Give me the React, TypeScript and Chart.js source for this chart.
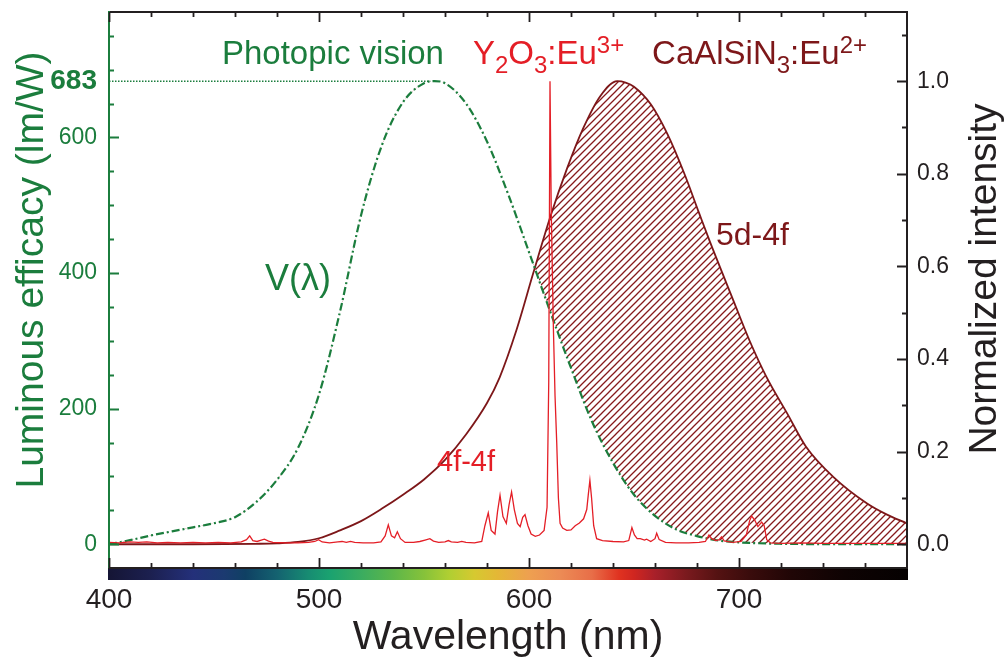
import { useEffect, useRef } from 'react';
import { Chart, registerables } from 'chart.js';

Chart.register(...registerables);

const FONT = '"Liberation Sans", Arial, Helvetica, sans-serif';
const GREEN = '#1b7d3d';
const RED = '#e41e26';
const DARK_RED = '#7d1719';
const HATCH_RED = '#861a1c';
const INK = '#231f20';

// ---- axes ----
const wavelengthMin = 400;
const wavelengthMax = 780;
const wavelengthLabels = [400, 500, 600, 700];
const wavelengthMinorTicks = [420, 440, 460, 480, 520, 540, 560, 580, 620, 640, 660, 680, 720, 740, 760];

const efficacyMin = -35;
const efficacyMax = 785;
const efficacyLabels = [0, 200, 400, 600, 683];
const efficacyMajorTicks = [0, 200, 400, 600];
const efficacyMinorTicks = [50, 100, 150, 250, 300, 350, 450, 500, 550, 650, 700, 750];

const intensityMin = -35 / 683;
const intensityMax = 785 / 683;
const intensityLabels = [0, 0.2, 0.4, 0.6, 0.8, 1.0];
const intensityMinorTicks = [0.1, 0.3, 0.5, 0.7, 0.9, 1.1];

// ---- photopic luminous efficacy V(λ), lm/W ----
const photopicWavelengths = [400, 410, 420, 430, 440, 450, 460, 470, 480, 490, 500, 510, 520, 530, 540, 550, 555, 560, 570, 580, 590, 600, 610, 620, 630, 640, 650, 660, 670, 680, 690, 700, 720, 740, 760, 780];
const photopicEfficacy = [0, 6, 13, 19, 25, 31, 40, 62, 95, 142, 221, 343, 485, 589, 652, 680, 683, 680, 650, 594, 517, 431, 344, 260, 181, 120, 73, 42, 22, 12, 5.6, 2.8, 0.7, 0.2, 0.04, 0];

// dotted guide at the 683 lm/W maximum
const peakGuideWavelengths = [400, 553];
const peakGuideEfficacy = [683, 683];

// ---- CaAlSiN3:Eu2+ broad 5d-4f band, normalized ----
const nitrideWavelengths = [400, 440, 470, 480, 490, 500, 510, 520, 530, 540, 550, 560, 570, 580, 586, 594, 602, 610, 618, 626, 634, 642, 646, 650, 658, 666, 674, 681, 686, 697, 705, 713, 723, 732, 745, 761, 770, 780];
const nitrideIntensity = [0, 0, 0.001, 0.002, 0.005, 0.013, 0.03, 0.05, 0.077, 0.107, 0.14, 0.182, 0.237, 0.305, 0.36, 0.462, 0.585, 0.705, 0.81, 0.9, 0.968, 1.0, 0.997, 0.988, 0.95, 0.885, 0.8, 0.715, 0.655, 0.53, 0.44, 0.362, 0.282, 0.21, 0.145, 0.088, 0.065, 0.045];

// ---- Y2O3:Eu3+ line spectrum (4f-4f), normalized ----
const europiumWavelengths = [
  400, 405, 410, 414, 418, 423, 428, 434, 440, 446, 452, 458, 463, 465.5, 467, 468.5, 470.5, 472.5, 474, 476, 478,
  484, 490, 495, 498, 499.8, 501.5, 505, 509, 511, 513, 515, 517, 521, 526, 529.5, 531.5, 533, 534.5, 536, 537.3,
  538.8, 541, 545, 548, 550.5, 552.8, 554.5, 557, 560, 561.6, 563, 566, 568, 570, 574, 577.5, 579, 580.6, 582,
  583.8, 585, 586.2, 587.6, 589.2, 590.5, 591.7, 593, 594.5, 595.8, 597, 598.1, 599.5, 601, 603, 605, 607.2, 608.6,
  609.4, 610, 610.6, 611.6, 612.4, 613.2, 614, 614.8, 616, 618, 620, 622, 624, 626, 627.5, 628.3, 629, 629.8, 630.8,
  632.2, 635, 640, 645, 647.5, 649, 650.2, 651.5, 653, 655, 656, 658, 660, 660.8, 662, 665, 670, 676, 681, 684,
  685.7, 687, 689, 690.5, 691.7, 693, 697, 701, 703.5, 705, 706, 707.5, 709, 710.8, 712, 713.2, 715, 720, 730, 740,
  750, 760, 770, 780,
];
const europiumIntensity = [
  0.004, 0.003, 0.005, 0.004, 0.005, 0.003, 0.004, 0.003, 0.004, 0.003, 0.004, 0.003, 0.005, 0.01, 0.018, 0.008, 0.006, 0.009, 0.011, 0.007, 0.004,
  0.003, 0.003, 0.004, 0.006, 0.01, 0.005, 0.003, 0.005, 0.006, 0.004, 0.006, 0.004, 0.003, 0.003, 0.005, 0.018, 0.042, 0.018, 0.014, 0.027,
  0.012, 0.004, 0.004, 0.006, 0.009, 0.012, 0.007, 0.004, 0.005, 0.008, 0.005, 0.004, 0.006, 0.004, 0.003, 0.006, 0.04, 0.068, 0.03,
  0.022, 0.07, 0.106, 0.06, 0.045, 0.085, 0.113, 0.075, 0.045, 0.038, 0.058, 0.064, 0.04, 0.022, 0.017, 0.02, 0.03, 0.08,
  0.35, 1.0, 0.72, 0.47, 0.32, 0.22, 0.1, 0.045, 0.035, 0.03, 0.031, 0.04, 0.046, 0.055, 0.075, 0.11, 0.138, 0.1, 0.04,
  0.012, 0.008, 0.006, 0.005, 0.008, 0.036, 0.02, 0.012, 0.012, 0.009, 0.011, 0.006, 0.012, 0.024, 0.01, 0.004, 0.003, 0.003, 0.004, 0.006,
  0.02, 0.012, 0.008, 0.01, 0.016, 0.007, 0.004, 0.006, 0.02, 0.05, 0.061, 0.052, 0.038, 0.048, 0.04, 0.01, 0.003, 0.002, 0.003, 0.002,
  0.002, 0.002, 0.002, 0.002,
];

// colour strip under the wavelength axis
const spectrumStops: [number, string][] = [
  [400, '#151535'], [420, '#1c2050'], [440, '#24307a'], [455, '#1b3a70'], [465, '#0f4063'], [480, '#146270'],
  [495, '#178c72'], [505, '#1aa270'], [520, '#3aac60'], [535, '#5cb64a'], [550, '#86c23a'], [562, '#b0cf32'],
  [574, '#d6c930'], [585, '#e4b736'], [600, '#eea050'], [615, '#ec8b55'], [630, '#e86e48'], [643, '#e03220'],
  [650, '#d02620'], [660, '#a8202a'], [675, '#7a1a1e'], [690, '#541212'], [705, '#3a0c0c'], [725, '#200606'],
  [750, '#0e0303'], [780, '#050101'],
];

type Run = { t: string; s?: 'sub' | 'sup' };
type Note = { runs: Run[]; nm: number; level: number; size: number; color: string };

// text placed at (wavelength, normalized intensity)
const notes: Note[] = [
  { runs: [{ t: 'Photopic vision' }], nm: 453.8, level: 1.037, size: 33, color: GREEN },
  { runs: [{ t: 'Y' }, { t: '2', s: 'sub' }, { t: 'O' }, { t: '3', s: 'sub' }, { t: ':Eu' }, { t: '3+', s: 'sup' }], nm: 573.3, level: 1.037, size: 33, color: RED },
  { runs: [{ t: 'CaAlSiN' }, { t: '3', s: 'sub' }, { t: ':Eu' }, { t: '2+', s: 'sup' }], nm: 658.6, level: 1.037, size: 33, color: DARK_RED },
  { runs: [{ t: 'V(λ)' }], nm: 474.3, level: 0.549, size: 36, color: GREEN },
  { runs: [{ t: '4f-4f' }], nm: 556.2, level: 0.158, size: 29, color: RED },
  { runs: [{ t: '5d-4f' }], nm: 689.0, level: 0.646, size: 32, color: DARK_RED },
];

const pts = (xs: number[], ys: number[]) => xs.map((x, i) => ({ x, y: ys[i] }));

function drawRuns(ctx: CanvasRenderingContext2D, x: number, y: number, note: Note) {
  let cx = x;
  ctx.fillStyle = note.color;
  ctx.textBaseline = 'alphabetic';
  ctx.textAlign = 'left';
  const small = Math.round(note.size * 0.73);
  for (const r of note.runs) {
    const size = r.s ? small : note.size;
    ctx.font = `${size}px ${FONT}`;
    const dy = r.s === 'sub' ? 9 : r.s === 'sup' ? -11 : 0;
    ctx.fillText(r.t, cx, y + dy);
    cx += ctx.measureText(r.t).width;
  }
}

const decorPlugin = {
  id: 'decor',
  afterDatasetsDraw(chart: any) {
    const ctx: CanvasRenderingContext2D = chart.ctx;
    const { left, right, top, bottom } = chart.chartArea;
    const xs = chart.scales.x;
    const yl = chart.scales.yL;
    const yr = chart.scales.yR;
    ctx.save();

    // spectrum strip
    const grad = ctx.createLinearGradient(left, 0, right, 0);
    for (const [nm, c] of spectrumStops) {
      grad.addColorStop((xs.getPixelForValue(nm) - left) / (right - left), c);
    }
    ctx.fillStyle = grad;
    ctx.fillRect(left - 1, bottom, right - left + 2, 12);

    // frame
    ctx.lineWidth = 2;
    ctx.strokeStyle = INK;
    ctx.beginPath();
    ctx.moveTo(left - 1, top);
    ctx.lineTo(right + 1, top);
    ctx.moveTo(right, top);
    ctx.lineTo(right, bottom);
    ctx.moveTo(left - 1, bottom);
    ctx.lineTo(right + 1, bottom);
    ctx.stroke();
    ctx.strokeStyle = GREEN;
    ctx.beginPath();
    ctx.moveTo(left, top - 1);
    ctx.lineTo(left, bottom);
    ctx.stroke();

    // inward ticks
    ctx.lineWidth = 1.8;
    ctx.strokeStyle = INK;
    ctx.beginPath();
    const xTick = (v: number, len: number) => {
      const p = Math.round(xs.getPixelForValue(v)) + 0.5;
      ctx.moveTo(p, bottom);
      ctx.lineTo(p, bottom - len);
      ctx.moveTo(p, top);
      ctx.lineTo(p, top + len);
    };
    wavelengthLabels.forEach((v) => xTick(v, 10));
    wavelengthMinorTicks.forEach((v) => xTick(v, 5));
    const rTick = (v: number, len: number) => {
      const p = Math.round(yr.getPixelForValue(v)) + 0.5;
      ctx.moveTo(right, p);
      ctx.lineTo(right - len, p);
    };
    intensityLabels.forEach((v) => rTick(v, 10));
    intensityMinorTicks.forEach((v) => rTick(v, 5));
    ctx.stroke();

    ctx.strokeStyle = GREEN;
    ctx.beginPath();
    const lTick = (v: number, len: number) => {
      const p = Math.round(yl.getPixelForValue(v)) + 0.5;
      ctx.moveTo(left, p);
      ctx.lineTo(left + len, p);
    };
    efficacyMajorTicks.forEach((v) => lTick(v, 10));
    efficacyMinorTicks.forEach((v) => lTick(v, 5));
    ctx.stroke();

    // annotations
    for (const n of notes) {
      drawRuns(ctx, xs.getPixelForValue(n.nm), yr.getPixelForValue(n.level), n);
    }

    // vertical axis titles
    const mid = (top + bottom) / 2;
    ctx.font = `39px ${FONT}`;
    ctx.textAlign = 'center';
    ctx.textBaseline = 'alphabetic';
    ctx.save();
    ctx.translate(yl.left + 43, mid - 20);
    ctx.rotate(-Math.PI / 2);
    ctx.fillStyle = GREEN;
    ctx.fillText('Luminous efficacy (lm/W)', 0, 0);
    ctx.restore();
    ctx.save();
    ctx.translate(right + 89, mid - 11);
    ctx.rotate(-Math.PI / 2);
    ctx.fillStyle = INK;
    ctx.fillText('Normalized intensity', 0, 0);
    ctx.restore();

    ctx.restore();
  },
};

// diagonal "/" hatching for the band area above V(λ)
function makeHatch(ctx: CanvasRenderingContext2D) {
  const s = 7;
  const c = document.createElement('canvas');
  c.width = s;
  c.height = s;
  const g = c.getContext('2d')!;
  g.strokeStyle = HATCH_RED;
  g.lineWidth = 1.3;
  g.beginPath();
  g.moveTo(0, s);
  g.lineTo(s, 0);
  g.moveTo(-1, 1);
  g.lineTo(1, -1);
  g.moveTo(s - 1, s + 1);
  g.lineTo(s + 1, s - 1);
  g.stroke();
  return ctx.createPattern(c, 'repeat');
}

// vertical scales: fixed width, no extra label padding above/below the plot
const fixVertical = (width: number) => (s: any) => {
  s.width = width;
  s.paddingTop = 0;
  s.paddingBottom = 0;
};

export default function App() {
  const canvasRef = useRef<HTMLCanvasElement>(null);

  useEffect(() => {
    document.body.style.margin = '0';
    const canvas = canvasRef.current!;
    const ctx = canvas.getContext('2d')!;
    const hatch = makeHatch(ctx);

    const chart = new Chart(ctx, {
      type: 'line',
      data: {
        datasets: [
          {
            label: 'Y2O3:Eu3+',
            data: pts(europiumWavelengths, europiumIntensity),
            yAxisID: 'yR',
            borderColor: RED,
            borderWidth: 1.3,
            pointRadius: 0,
            tension: 0,
            fill: false,
          },
          {
            label: 'V(λ)',
            data: pts(photopicWavelengths, photopicEfficacy),
            yAxisID: 'yL',
            borderColor: GREEN,
            borderWidth: 2.2,
            borderDash: [8, 3, 2, 3],
            pointRadius: 0,
            cubicInterpolationMode: 'monotone',
            fill: false,
          },
          {
            label: '683 lm/W',
            data: pts(peakGuideWavelengths, peakGuideEfficacy),
            yAxisID: 'yL',
            borderColor: GREEN,
            borderWidth: 1.5,
            borderDash: [1.5, 1.5],
            pointRadius: 0,
            fill: false,
          },
          {
            label: 'CaAlSiN3:Eu2+',
            data: pts(nitrideWavelengths, nitrideIntensity),
            yAxisID: 'yR',
            borderColor: DARK_RED,
            borderWidth: 1.8,
            pointRadius: 0,
            cubicInterpolationMode: 'monotone',
            fill: { target: 1, above: hatch as any, below: 'rgba(0,0,0,0)' },
          },
        ],
      },
      options: {
        animation: false,
        responsive: false,
        maintainAspectRatio: false,
        devicePixelRatio: 1,
        events: [],
        layout: { padding: { top: 12, left: 0, right: 0, bottom: 0 } },
        plugins: {
          legend: { display: false },
          tooltip: { enabled: false },
        },
        scales: {
          x: {
            type: 'linear',
            position: 'bottom',
            min: wavelengthMin,
            max: wavelengthMax,
            grid: { display: false, drawTicks: false },
            border: { display: false },
            afterBuildTicks: (s: any) => {
              s.ticks = wavelengthLabels.map((v) => ({ value: v }));
            },
            afterFit: (s: any) => {
              s.height = 92;
              s.paddingLeft = 0;
              s.paddingRight = 0;
            },
            ticks: {
              autoSkip: false,
              maxRotation: 0,
              padding: 18,
              color: INK,
              font: { family: FONT, size: 28, lineHeight: 1 },
            },
            title: {
              display: true,
              text: 'Wavelength (nm)',
              color: INK,
              font: { family: FONT, size: 41, lineHeight: 1 },
              padding: { top: 0, bottom: 2 },
            },
          },
          yL: {
            type: 'linear',
            position: 'left',
            min: efficacyMin,
            max: efficacyMax,
            grid: { display: false, drawTicks: false },
            border: { display: false },
            afterBuildTicks: (s: any) => {
              s.ticks = efficacyLabels.map((v) => ({ value: v }));
            },
            afterFit: fixVertical(109),
            ticks: {
              autoSkip: false,
              padding: 12,
              color: GREEN,
              font: (c: any) =>
                c.tick && c.tick.value === 683
                  ? { family: FONT, size: 28, weight: 'bold', lineHeight: 1 }
                  : { family: FONT, size: 23, lineHeight: 1 },
            },
          },
          yR: {
            type: 'linear',
            position: 'right',
            min: intensityMin,
            max: intensityMax,
            grid: { display: false, drawTicks: false },
            border: { display: false },
            afterBuildTicks: (s: any) => {
              s.ticks = intensityLabels.map((v) => ({ value: v }));
            },
            afterFit: fixVertical(98),
            ticks: {
              autoSkip: false,
              padding: 10,
              color: INK,
              font: { family: FONT, size: 23, lineHeight: 1 },
              callback: (v: any) => Number(v).toFixed(1),
            },
          },
        },
      },
      plugins: [decorPlugin],
    } as any);

    return () => chart.destroy();
  }, []);

  return (
    <div style={{ width: 1005, height: 660, background: '#ffffff' }}>
      <canvas ref={canvasRef} width={1005} height={660} style={{ display: 'block', width: 1005, height: 660 }} />
    </div>
  );
}
